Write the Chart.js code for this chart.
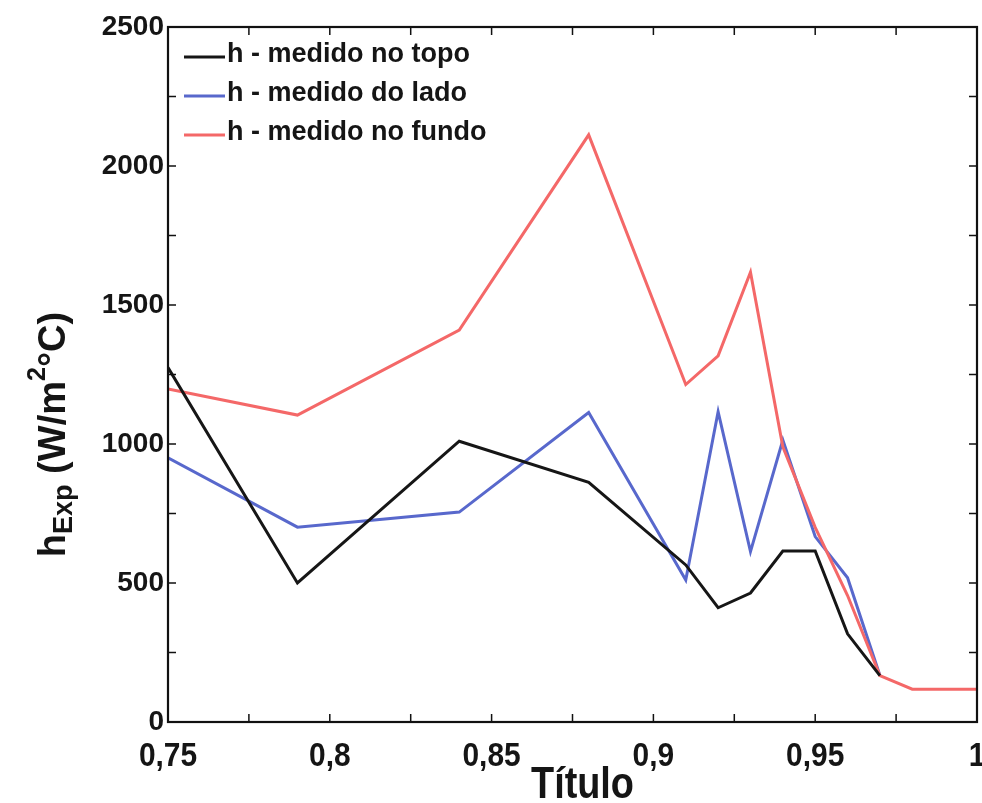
<!DOCTYPE html>
<html>
<head>
<meta charset="utf-8">
<script src="https://cdn.jsdelivr.net/npm/chart.js@4"></script>
<style>
  html, body { margin: 0; padding: 0; background: #fff; }
  #wrap { width: 982px; height: 803px; }
</style>
</head>
<body>
<div id="wrap"><canvas id="hChart" width="982" height="803"></canvas></div>
<script>
// title (quality) on the x axis
const titulo = [0.75, 0.79, 0.84, 0.88, 0.91, 0.92, 0.93, 0.94, 0.95, 0.96, 0.97, 0.98, 1.0];
// heat transfer coefficient, W/m2C
const hTopo  = [1275, 500, 1010, 862, 565, 411, 464, 615, 615, 317, 167, null, null];
const hLado  = [950, 701, 755, 1113, 511, 1116, 613, 1014, 667, 519, 167, null, null];
const hFundo = [1198, 1104, 1410, 2112, 1214, 1317, 1618, 990, 700, 455, 167, 118, 118];
const seriesNames = ['h - medido no topo', 'h - medido do lado', 'h - medido no fundo'];
const seriesColors = ['#161616', '#5868cc', '#f46868'];
const yTicks = [0, 500, 1000, 1500, 2000, 2500];
const xTitle = 'Título';

const sansBold = size => `bold ${size}px "Liberation Sans", Arial, sans-serif`;

function toPoints(vals) {
    return titulo.map((t, i) => ({ x: t, y: vals[i] }));
}

function fmtX(v) {
    return String(Number(v.toFixed(2))).replace('.', ',');
}

// squeezed text, a stand-in for a narrow bold face
function narrowText(ctx, text, cx, baseline, size, squeeze) {
    ctx.save();
    ctx.font = sansBold(size);
    ctx.textAlign = 'center';
    ctx.textBaseline = 'alphabetic';
    ctx.translate(cx, baseline);
    ctx.scale(squeeze, 1);
    ctx.fillText(text, 0, 0);
    ctx.restore();
}

// frame plus inward ticks on all four sides
const framePlugin = {
    id: 'frame',
    afterDatasetsDraw(chart) {
        const { ctx, chartArea: a, scales } = chart;
        ctx.save();
        ctx.strokeStyle = '#111';
        ctx.lineWidth = 1.5;
        for (let v = 0.75; v <= 1.0001; v += 0.025) {
            const px = scales.x.getPixelForValue(v);
            ctx.beginPath();
            ctx.moveTo(px, a.bottom); ctx.lineTo(px, a.bottom - 8);
            ctx.moveTo(px, a.top); ctx.lineTo(px, a.top + 8);
            ctx.stroke();
        }
        for (let v = 0; v <= 2500; v += 250) {
            const py = scales.y.getPixelForValue(v);
            ctx.beginPath();
            ctx.moveTo(a.left, py); ctx.lineTo(a.left + 8, py);
            ctx.moveTo(a.right, py); ctx.lineTo(a.right - 8, py);
            ctx.stroke();
        }
        ctx.lineWidth = 2.2;
        ctx.strokeRect(a.left, a.top, a.right - a.left, a.bottom - a.top);
        ctx.restore();
    }
};

// x tick labels and axis title in a narrow face
const xLabels = {
    id: 'xLabels',
    afterDraw(chart) {
        const { ctx, chartArea: a, scales } = chart;
        ctx.save();
        ctx.fillStyle = '#151515';
        scales.x.ticks.forEach(t => {
            narrowText(ctx, fmtX(t.value), scales.x.getPixelForValue(t.value), a.bottom + 44, 34, 0.88);
        });
        narrowText(ctx, xTitle, (a.left + a.right) / 2 + 10, a.bottom + 76, 44, 0.86);
        ctx.restore();
    }
};

// legend drawn inside the plot, top left, without a box
const innerLegend = {
    id: 'innerLegend',
    afterDatasetsDraw(chart) {
        const { ctx, chartArea: a } = chart;
        ctx.save();
        ctx.font = sansBold(27);
        ctx.textBaseline = 'alphabetic';
        ctx.fillStyle = '#151515';
        chart.data.datasets.forEach((ds, i) => {
            const base = a.top + 35 + i * 39;
            ctx.strokeStyle = ds.borderColor;
            ctx.lineWidth = 3;
            ctx.beginPath();
            ctx.moveTo(a.left + 16, base - 5);
            ctx.lineTo(a.left + 57, base - 5);
            ctx.stroke();
            ctx.fillText(ds.label, a.left + 59, base);
        });
        ctx.restore();
    }
};

// rotated y title with subscript and superscript
const yTitle = {
    id: 'yTitle',
    afterDraw(chart) {
        const { ctx, chartArea: a } = chart;
        const parts = [
            { t: 'h', size: 38, dy: 0 },
            { t: 'Exp', size: 27, dy: 10 },
            { t: ' (W/m', size: 38, dy: 0 },
            { t: '2', size: 25, dy: -17 },
            { t: '°C)', size: 38, dy: 0 }
        ];
        ctx.save();
        let total = 0;
        parts.forEach(p => {
            ctx.font = sansBold(p.size);
            p.w = ctx.measureText(p.t).width;
            total += p.w;
        });
        ctx.translate(55, (a.top + a.bottom) / 2 + 60);
        ctx.rotate(-Math.PI / 2);
        ctx.fillStyle = '#151515';
        ctx.textBaseline = 'middle';
        let x = -total / 2;
        parts.forEach(p => {
            ctx.font = sansBold(p.size);
            ctx.fillText(p.t, x, p.dy);
            x += p.w;
        });
        ctx.restore();
    }
};

document.addEventListener('DOMContentLoaded', function() {
    const ctx = document.getElementById('hChart');
    const allSeries = [hTopo, hLado, hFundo];

    new Chart(ctx, {
        type: 'line',
        data: {
            datasets: allSeries.map((vals, i) => ({
                label: seriesNames[i],
                data: toPoints(vals),
                borderColor: seriesColors[i],
                borderWidth: 3,
                pointRadius: 0,
                tension: 0,
                spanGaps: false,
                order: i === 0 ? 0 : (i === 2 ? 1 : 2)
            }))
        },
        options: {
            responsive: false,
            animation: false,
            events: [],
            layout: { autoPadding: false, padding: { top: 27, right: 5, left: 0, bottom: 0 } },
            plugins: { legend: { display: false }, tooltip: { enabled: false } },
            scales: {
                x: {
                    type: 'linear',
                    min: 0.75,
                    max: 1.0,
                    grid: { display: false },
                    border: { display: false },
                    ticks: { stepSize: 0.05, display: false },
                    afterFit: s => { s.height = 81; s.paddingLeft = 0; s.paddingRight = 0; }
                },
                y: {
                    min: 0,
                    max: 2500,
                    grid: { display: false, drawTicks: false },
                    border: { display: false },
                    afterBuildTicks: s => { s.ticks = yTicks.map(v => ({ value: v })); },
                    ticks: {
                        color: '#151515',
                        padding: 4,
                        font: { family: '"Liberation Sans", Arial', size: 28, weight: 'bold' },
                        callback: v => String(v)
                    },
                    afterFit: s => { s.width = 168; s.paddingTop = 0; s.paddingBottom = 0; }
                }
            }
        },
        plugins: [framePlugin, innerLegend, xLabels, yTitle]
    });
});
</script>
</body>
</html>
